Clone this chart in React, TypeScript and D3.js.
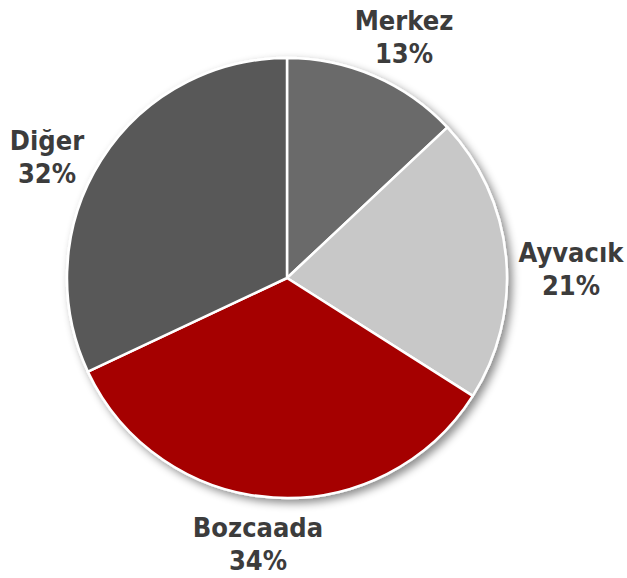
import React from "react";
import * as d3 from "d3";

const categories = ["Merkez", "Ayvacık", "Bozcaada", "Diğer"];
const values = [13, 21, 34, 32];
const colors = ["#6b6b6b", "#c8c8c8", "#a50000", "#595959"];
// label anchor offsets relative to pie centre (first baseline)
const labelOffsets: [number, number][] = [
  [117, -248.5],
  [284, -16],
  [-29, 259],
  [-240, -128],
];

export default function App() {
  const W = 627;
  const H = 578;
  const cx = 287;
  const cy = 278;
  const r = 220;
  const pie = d3.pie<number>().sort(null).value((d) => d)(values);
  const arc = d3.arc<d3.PieArcDatum<number>>().innerRadius(0).outerRadius(r);
  return (
    <svg
      width={W}
      height={H}
      style={{ position: "absolute", left: 0, top: 0, background: "#fff" }}
    >
      <defs>
        <filter id="sh" x="-20%" y="-20%" width="140%" height="140%">
          <feDropShadow dx="4" dy="4" stdDeviation="4" floodColor="#000" floodOpacity="0.45" />
        </filter>
      </defs>
      <g transform={`translate(${cx},${cy})`}>
        <g filter="url(#sh)">
          {pie.map((p, i) => (
            <path key={i} d={arc(p) || ""} fill={colors[i]} stroke="#fff" strokeWidth={2.5} strokeLinejoin="round" />
          ))}
        </g>
        {pie.map((p, i) => (
          <text
            key={"t" + i}
            x={labelOffsets[i][0]}
            y={labelOffsets[i][1]}
            textAnchor="middle"
            fontFamily="'DejaVu Sans Condensed', 'DejaVu Sans', sans-serif"
            fontStretch="condensed"
            fontWeight="bold"
            fontSize={27}
            fill="#3c3c3c"
          >
            <tspan x={labelOffsets[i][0]}>{categories[i]}</tspan>
            <tspan x={labelOffsets[i][0]} dy={33}>{`${values[i]}%`}</tspan>
          </text>
        ))}
      </g>
    </svg>
  );
}
